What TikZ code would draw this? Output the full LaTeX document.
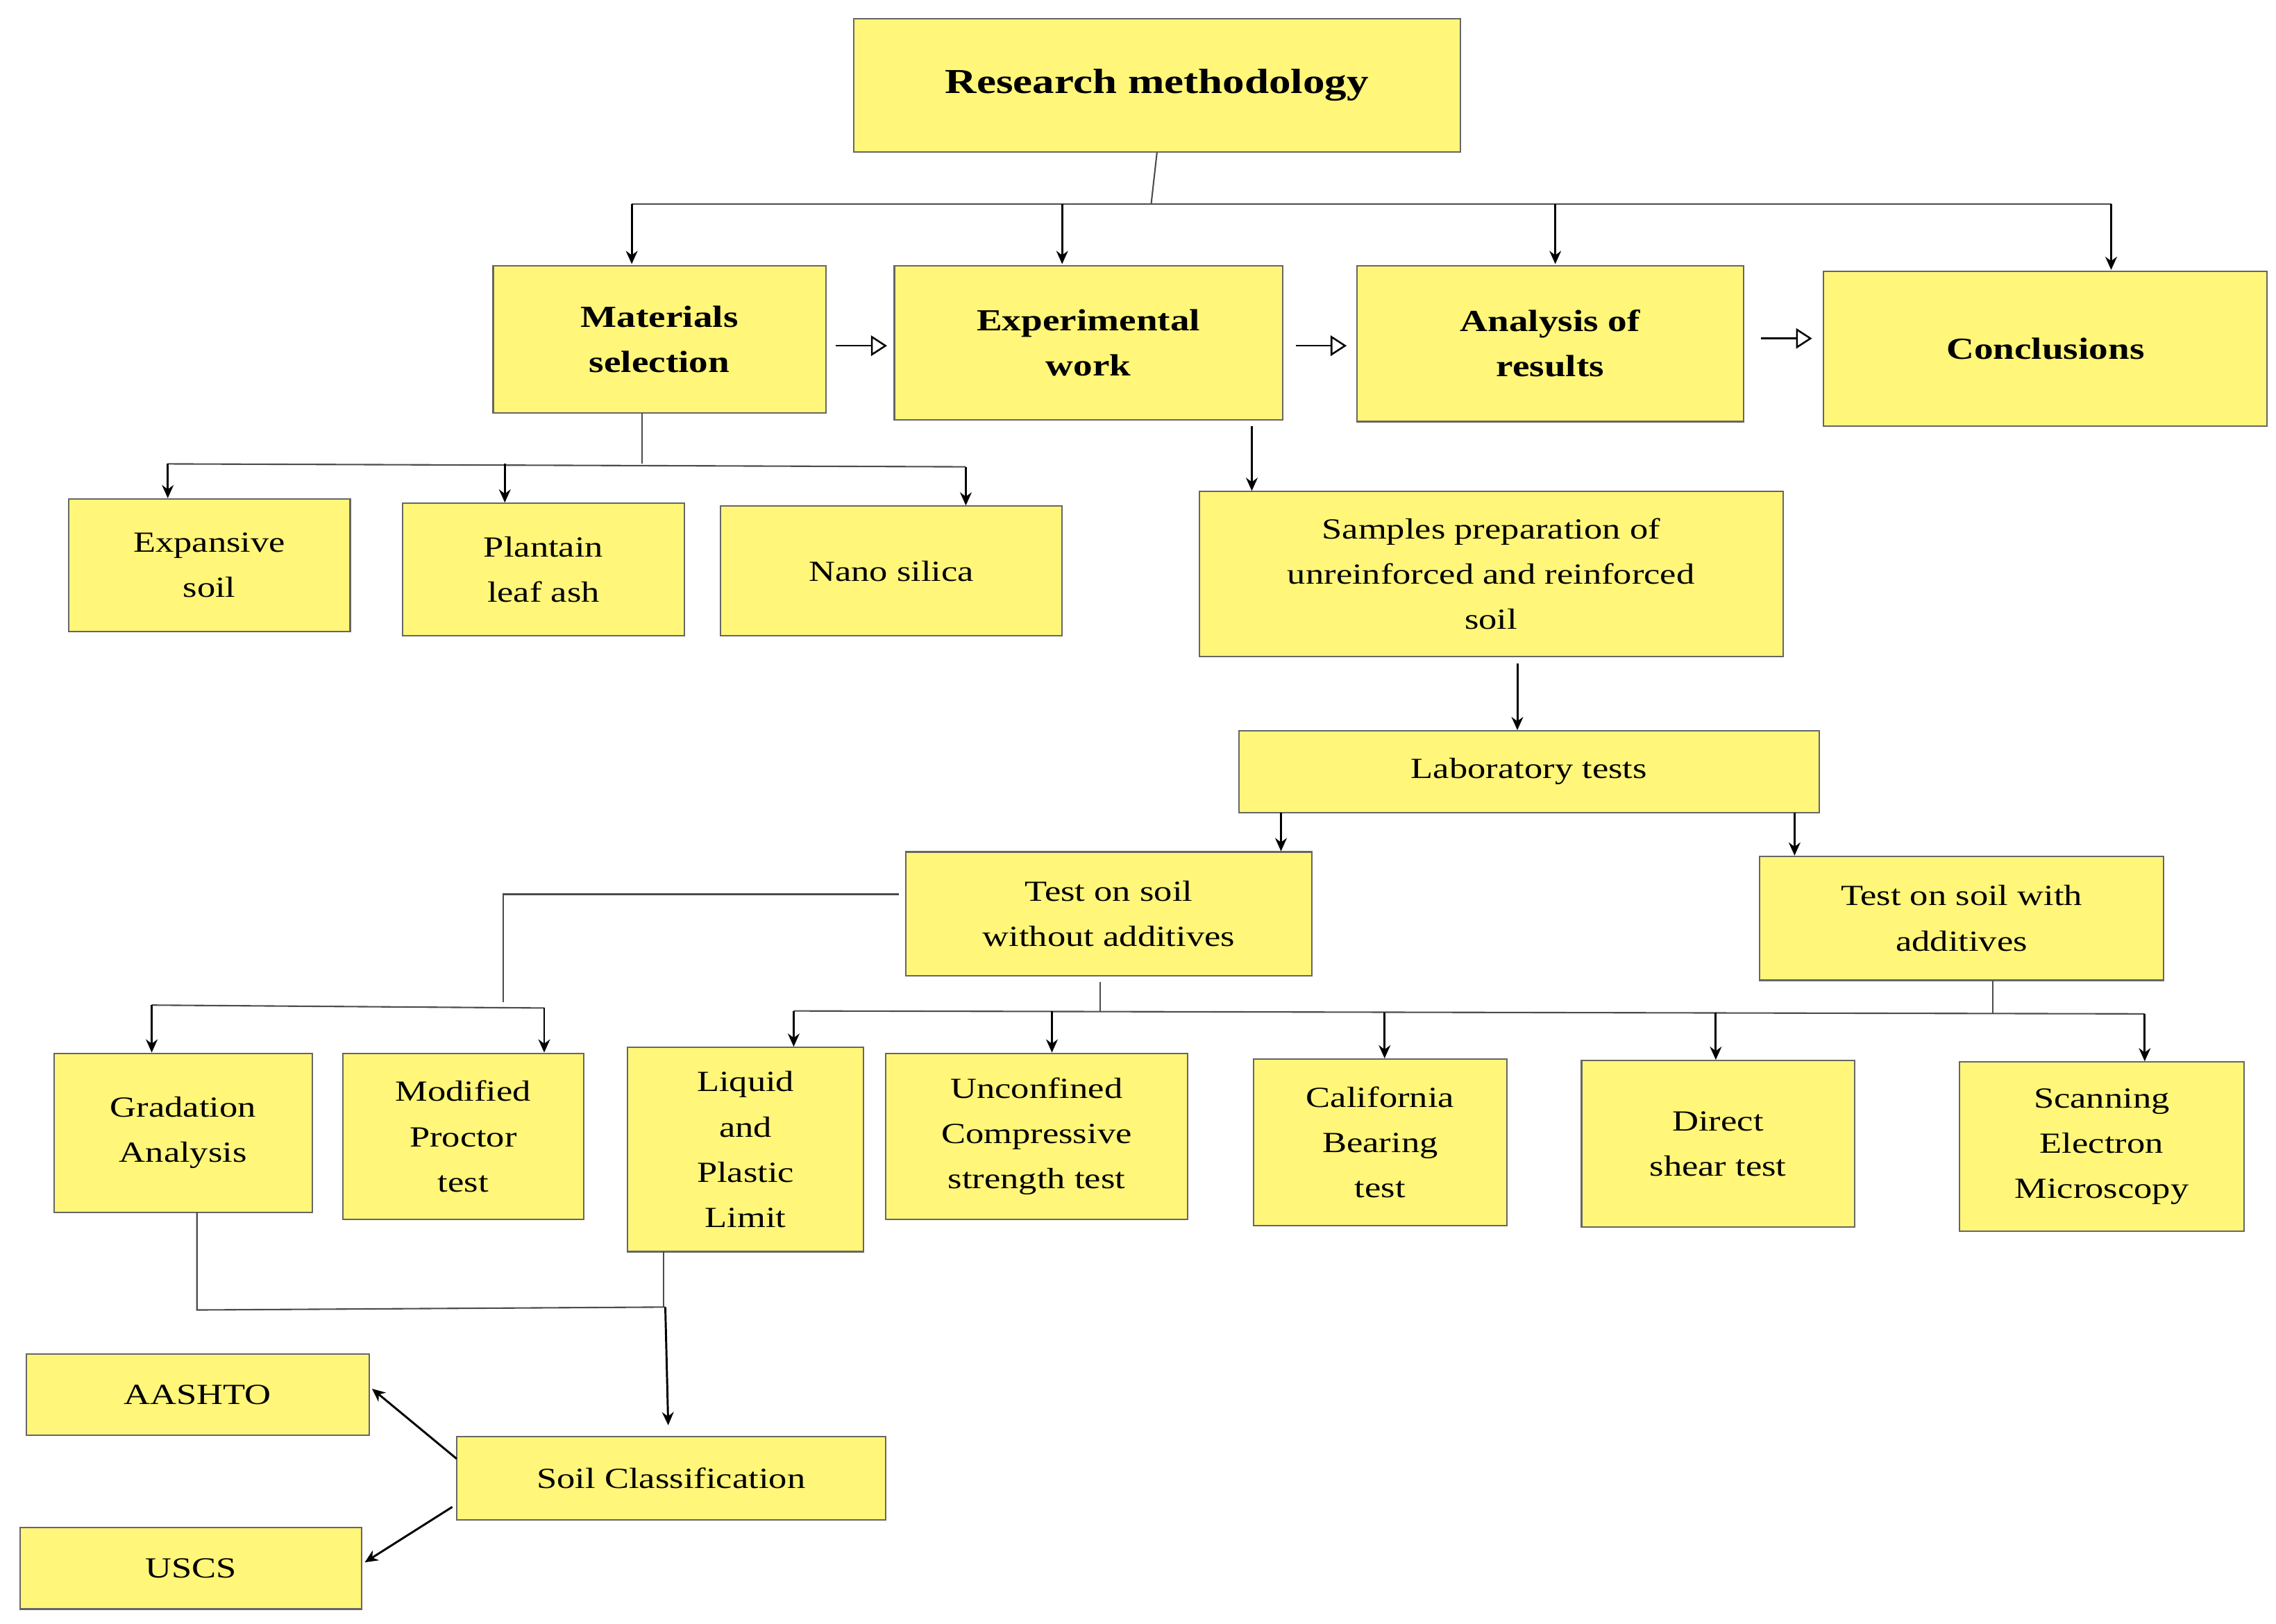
\documentclass[tikz,border=0pt]{standalone}
\usepackage{fontspec}
\setmainfont{Liberation Serif}[FakeStretch=1.25]
\usetikzlibrary{arrows.meta}
\definecolor{by}{RGB}{255,246,122}
\tikzset{box/.style={draw=black!60,line width=1pt,fill=by,inner sep=0pt,align=center,font=\fontsize{20}{31}\selectfont},
 bbox/.style={box,font=\fontsize{21}{31}\selectfont\bfseries},
 ln/.style={draw=black!70,line width=1pt},
 ar/.style={ln,draw=black,line width=1.4pt,-{Stealth[length=9pt,width=8pt]}},
 hol/.style={draw=black,line width=1.2pt,-{Triangle[open,length=11pt,width=14pt]}}}
\newcommand{\bx}[7][box]{\node[#1,minimum width={(#5-#3)*1pt},minimum height={(#6-#4)*1pt}] (#2) at ({(#3+#5)/2},{(#4+#6)/2}) {#7};}
\begin{document}
\begin{tikzpicture}[x=1pt,y=-1pt]
\useasboundingbox (0,0) rectangle (1560,1113);
\bx[bbox]{rm}{585}{13}{1001}{104}{\fontsize{24}{31}\selectfont Research methodology}
\bx[bbox]{ms}{338}{182}{566}{283}{Materials\\selection}
\bx[bbox]{ew}{613}{182}{879}{288}{Experimental\\work}
\bx[bbox]{ar}{930}{182}{1195}{289}{Analysis of\\results}
\bx[bbox]{co}{1250}{186}{1554}{292}{Conclusions}
\bx{es}{47}{342}{240}{433}{Expansive\\soil}
\bx{pl}{276}{345}{469}{436}{Plantain\\leaf ash}
\bx{ns}{494}{347}{728}{436}{Nano silica}
\bx{sp}{822}{337}{1222}{450}{Samples preparation of\\unreinforced and reinforced\\soil}
\bx{lt}{849}{501}{1247}{557}{Laboratory tests}
\bx{wo}{621}{584}{899}{669}{Test on soil\\without additives}
\bx{wa}{1206}{587}{1483}{672}{Test on soil with\\additives}
\bx{ga}{37}{722}{214}{831}{Gradation\\Analysis}
\bx{mp}{235}{722}{400}{836}{Modified\\Proctor\\test}
\bx{ll}{430}{718}{592}{858}{Liquid\\and\\Plastic\\Limit}
\bx{uc}{607}{722}{814}{836}{Unconfined\\Compressive\\strength test}
\bx{cb}{859}{726}{1033}{840}{California\\Bearing\\test}
\bx{ds}{1084}{727}{1271}{841}{Direct\\shear test}
\bx{se}{1343}{728}{1538}{844}{Scanning\\Electron\\Microscopy}
\bx{sc}{313}{985}{607}{1042}{Soil Classification}
\bx{aa}{18}{928}{253}{984}{AASHTO}
\bx{us}{14}{1047}{248}{1103}{USCS}
% top tree
\coordinate (t1) at (789,140);
\draw[ln] (rm.south) -- (t1);
\draw[ln] (433,140) -- (1447,140);
\draw[ar] (433,140) -- (433,181);
\draw[ar] (728,140) -- (728,181);
\draw[ar] (1066,140) -- (1066,181);
\draw[ar] (1447,140) -- (1447,185);
\draw[hol] (573,237) -- (608,237);
\draw[hol] (888,237) -- (923,237);
\draw[hol] (1207,232) -- (1242,232);
% materials
\draw[ln] (440,283) -- (440,318);
\draw[ln] (115,318) -- (662,320);
\draw[ar] (115,318) -- (es.north -| 115,0);
\draw[ar] (346,318) -- (pl.north -| 346,0);
\draw[ar] (662,320) -- (ns.north -| 662,0);
% experimental
\draw[ar] (858,292) -- (sp.north -| 858,0);
\draw[ar] (1040,455) -- (lt.north -| 1040,0);
\draw[ar] (878,557) -- (wo.north -| 878,0);
\draw[ar] (1230,557) -- (wa.north -| 1230,0);
% without additives left
\draw[ln] (616,613) -- (345,613) -- (345,687);
\draw[ln] (104,689) -- (373,691);
\draw[ar] (104,689) -- (ga.north -| 104,0);
\draw[ar] (373,691) -- (mp.north -| 373,0);
% tests row
\draw[ln] (754,673) -- (754,693);
\draw[ln] (1366,672) -- (1366,695);
\draw[ln] (544,693) -- (1470,695);
\draw[ar] (544,693) -- (ll.north -| 544,0);
\draw[ar] (721,693) -- (uc.north -| 721,0);
\draw[ar] (949,694) -- (cb.north -| 949,0);
\draw[ar] (1176,694) -- (ds.north -| 1176,0);
\draw[ar] (1470,695) -- (se.north -| 1470,0);
% classification
\draw[ln] (135,831) -- (135,898) -- (456,896);
\draw[ln] (455,858) -- (455,896);
\draw[ar] (456,896) -- (458,977);
\draw[ar] (313,1000) -- (255,952);
\draw[ar] (310,1033) -- (250,1071);
\end{tikzpicture}
\end{document}
